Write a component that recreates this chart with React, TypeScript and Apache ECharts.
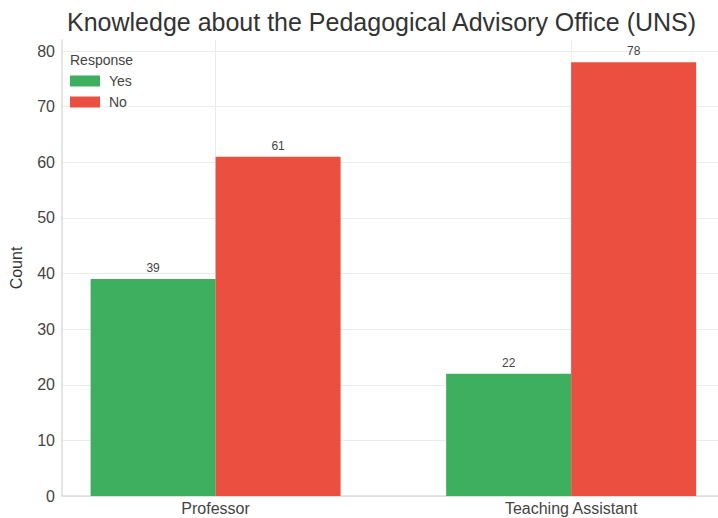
import React, { useEffect, useRef } from "react";
import * as echarts from "echarts";

const categories = ["Professor", "Teaching Assistant"];
const yesValues = [39, 22];
const noValues = [61, 78];
const yTicks = [0, 10, 20, 30, 40, 50, 60, 70, 80];

export default function App() {
  const ref = useRef<HTMLDivElement>(null);
  useEffect(() => {
    if (!ref.current) return;
    const chart = echarts.init(ref.current, undefined, { renderer: "svg" });
    const font = "Liberation Sans, Arial, sans-serif";
    const label = {
      show: true,
      position: "top" as const,
      distance: 5,
      color: "#444",
      fontSize: 12,
      fontFamily: font,
    };
    chart.setOption({
      animation: false,
      backgroundColor: "#fff",
      title: [
        {
          text: "Knowledge about the Pedagogical Advisory Office (UNS)",
          left: 62,
          top: 4,
          textStyle: { fontSize: 25, fontWeight: "normal", color: "#333", fontFamily: font },
        },
        {
          text: "Response",
          left: 65,
          top: 48,
          textStyle: { fontSize: 14, fontWeight: "normal", color: "#444", fontFamily: font },
        },
      ],
      legend: {
        orient: "vertical",
        left: 70,
        top: 74,
        padding: 0,
        itemWidth: 30,
        itemHeight: 11,
        itemGap: 7,
        icon: "rect",
        textStyle: { fontSize: 14, color: "#444", fontFamily: font, padding: [0, 0, 0, 4] },
        data: ["Yes", "No"],
      },
      grid: { left: 57, top: 40, right: 0, bottom: 22, containLabel: false },
      xAxis: {
        type: "value",
        min: -0.432,
        max: 1.413,
        axisLine: { show: true, onZero: false, lineStyle: { color: "#ddd", width: 1.5 } },
        axisTick: { show: false, customValues: [0, 1] },
        axisLabel: {
          customValues: [0, 1],
          formatter: (v: number) => categories[Math.round(v)] ?? "",
          fontSize: 16,
          color: "#444",
          fontFamily: font,
          margin: 4,
        },
        splitLine: { show: true, lineStyle: { color: "#ebebeb", width: 1 } },
      },
      yAxis: {
        type: "value",
        min: 0,
        max: 82,
        name: "Count",
        nameLocation: "middle",
        nameGap: 38,
        nameTextStyle: { fontSize: 16, color: "#333", fontFamily: font },
        axisLine: { show: true, onZero: false, lineStyle: { color: "#ddd", width: 1.5 } },
        axisTick: { show: false, customValues: yTicks },
        axisLabel: {
          customValues: yTicks,
          fontSize: 16,
          color: "#444",
          fontFamily: font,
          margin: 7,
        },
        splitLine: { show: true, lineStyle: { color: "#ebebeb", width: 1 } },
      },
      series: [
        {
          name: "Yes",
          type: "bar",
          barWidth: 125,
          barGap: "0%",
          itemStyle: { color: "#3daf5e" },
          label,
          data: yesValues.map((v, i) => [i, v]),
        },
        {
          name: "No",
          type: "bar",
          barWidth: 125,
          barGap: "0%",
          itemStyle: { color: "#ea4f3f" },
          label,
          data: noValues.map((v, i) => [i, v]),
        },
      ],
    });
    return () => chart.dispose();
  }, []);
  return <div ref={ref} style={{ width: 718, height: 518, position: "absolute", left: 0, top: 0 }} />;
}
